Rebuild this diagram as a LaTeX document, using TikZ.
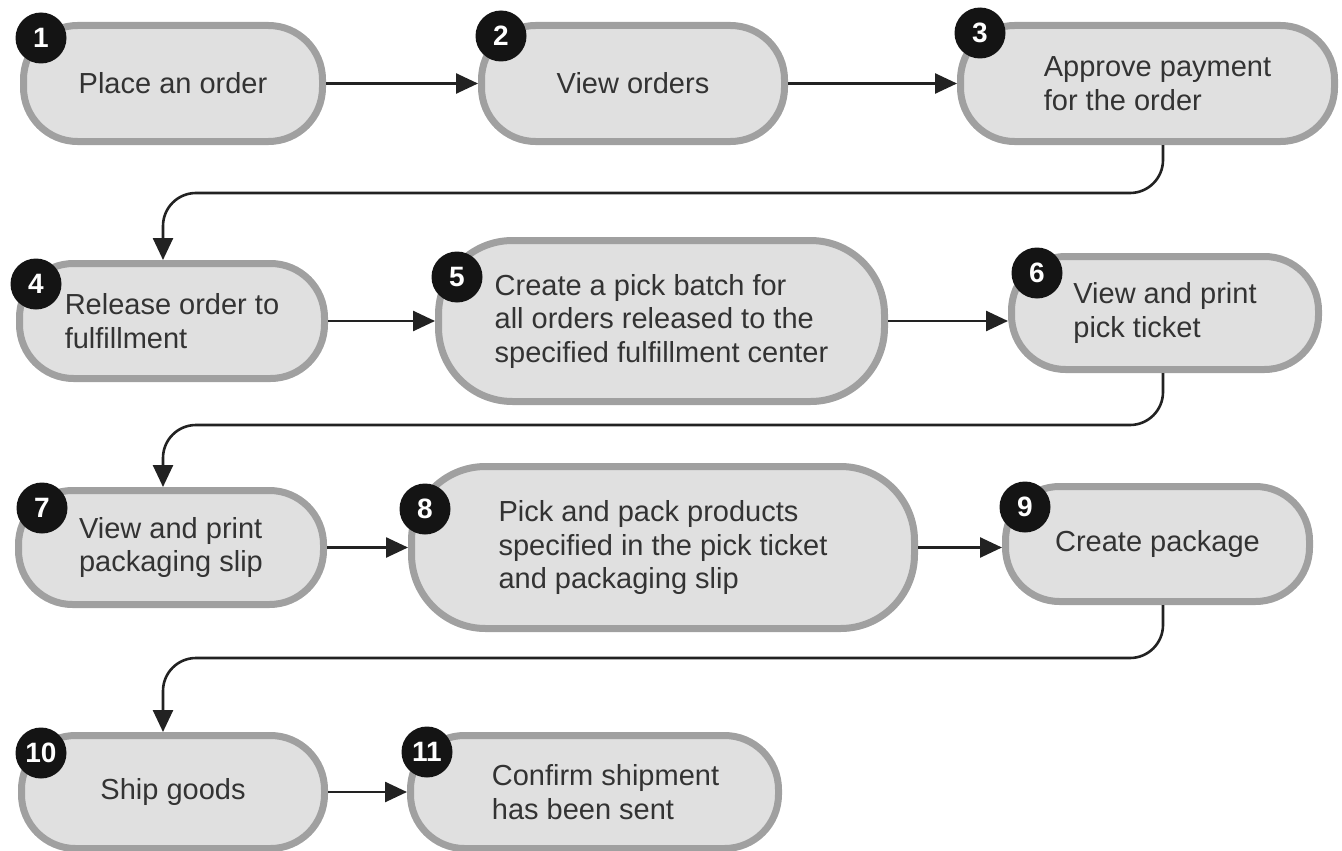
\documentclass[tikz,border=0pt]{standalone}
\usepackage{fontspec}
\setmainfont{Liberation Sans}
\usetikzlibrary{arrows.meta,shadows}
\definecolor{boxfill}{HTML}{E0E0E0}
\definecolor{boxline}{HTML}{A0A0A0}
\definecolor{txt}{HTML}{333333}
\definecolor{conncol}{HTML}{222222}
\begin{document}
\begin{tikzpicture}[x=1pt,y=-1pt,
  stepbox/.style={draw=boxline, line width=7pt, fill=boxfill, rounded corners=54pt,
    inner sep=0pt, align=left, text=txt, font=\fontsize{29}{33.5}\selectfont,
    drop shadow={shadow xshift=0.5pt, shadow yshift=-3pt, fill=black!35, opacity=0.6}},
  bigbox/.style={stepbox, rounded corners=74pt},
  badge/.style={circle, fill=black!92, text=white, minimum size=51pt, inner sep=0pt,
    font=\fontsize{28}{28}\selectfont\bfseries},
  conn/.style={draw=conncol, line width=2.6pt, -{Triangle[length=22pt,width=20pt]},
    rounded corners=33pt}]
\useasboundingbox (0,0) rectangle (1342,851);

% row 1
\node[stepbox, minimum width=299pt, minimum height=116pt] (n1) at (173,83.5) {Place an order};
\node[stepbox, minimum width=303pt, minimum height=116pt] (n2) at (633,83.5) {View orders};
\node[stepbox, minimum width=374pt, minimum height=116pt] (n3) at (1147.5,83.5) {\hspace*{20pt}Approve payment\\\hspace*{20pt}for the order};
% row 2
\node[stepbox, minimum width=305pt, minimum height=115pt] (n4) at (172,321) {Release order to\\fulfillment};
\node[bigbox, minimum width=446pt, minimum height=161pt] (n5) at (661.5,321) {Create a pick batch for\\all orders released to the\\specified fulfillment center};
\node[stepbox, minimum width=307pt, minimum height=113pt] (n6) at (1165,313) {View and print\\pick ticket};
% row 3
\node[stepbox, minimum width=305pt, minimum height=114pt] (n7) at (171,547.5) {View and print\\packaging slip};
\node[bigbox, minimum width=503pt, minimum height=162pt] (n8) at (663,547.5) {Pick and pack products\\specified in the pick ticket\\and packaging slip};
\node[stepbox, minimum width=304pt, minimum height=115pt] (n9) at (1157.5,544) {Create package};
% row 4
\node[stepbox, minimum width=303pt, minimum height=113pt] (n10) at (173,792) {Ship goods};
\node[stepbox, minimum width=368pt, minimum height=113pt] (n11) at (594.5,792) {\hspace*{22pt}Confirm shipment\\\hspace*{22pt}has been sent};

% badges
\node[badge] (b1) at (41,38) {1};
\node[badge] (b2) at (501,36) {2};
\node[badge] (b3) at (980,33) {3};
\node[badge] (b4) at (36,284) {4};
\node[badge] (b5) at (457,277) {5};
\node[badge] (b6) at (1037,273) {6};
\node[badge] (b7) at (42,508) {7};
\node[badge] (b8) at (425,509) {8};
\node[badge] (b9) at (1025,507) {9};
\node[badge] (b10) at (41,753) {10};
\node[badge] (b11) at (427,752) {11};

% helper coordinates for return connectors
\coordinate (colR) at (1163,0);
\coordinate (colL) at (163,0);
\coordinate (t1) at (1163,193);
\coordinate (t2) at (1163,425);
\coordinate (t3) at (1163,658);

% connectors
\draw[conn] (n1.east) -- (n2.west);
\draw[conn] (n2.east) -- (n3.west);
\draw[conn] (n3.south -| colR) -- (t1) -| (n4.north -| colL);
\draw[conn] (n4.east) -- (n5.west);
\draw[conn] (n5.east) -- (n6.west |- n5.east);
\draw[conn] (n6.south -| colR) -- (t2) -| (n7.north -| colL);
\draw[conn] (n7.east) -- (n8.west);
\draw[conn] (n8.east) -- (n9.west |- n8.east);
\draw[conn] (n9.south -| colR) -- (t3) -| (n10.north -| colL);
\draw[conn] (n10.east) -- (n11.west);
\end{tikzpicture}
\end{document}
